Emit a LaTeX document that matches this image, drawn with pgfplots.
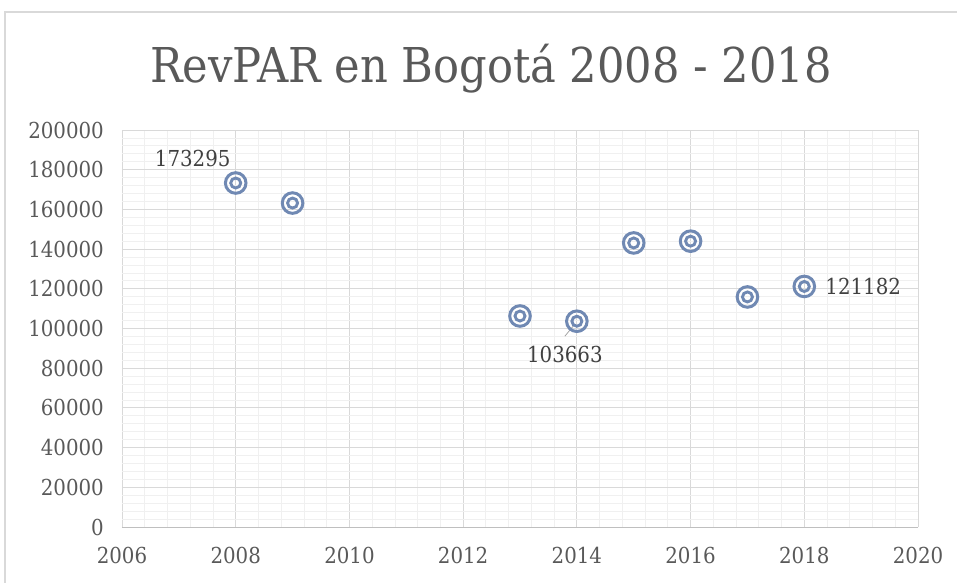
\documentclass[border=0pt]{standalone}
\usepackage{pgfplots}
\pgfplotsset{compat=1.18}
\usepackage{fontspec}
\setmainfont{DejaVu Serif Condensed}
\definecolor{txt}{HTML}{595959}
\definecolor{lbl}{HTML}{404040}
\definecolor{mk}{HTML}{7089B3}
\definecolor{frame}{HTML}{D9D9D9}
\begin{document}
\begin{tikzpicture}[x=1pt,y=1pt]
\useasboundingbox (-122,-55) rectangle (835,527);
\draw[frame, line width=1.5pt] (-117,-90) rectangle (870,515);
\node[txt, font=\fontsize{48}{54}\selectfont, anchor=base] at (369,444) {RevPAR en Bogotá 2008 - 2018};
\begin{axis}[
  at={(0,0)}, anchor=south west,
  scale only axis, width=796pt, height=397pt,
  xmin=2006, xmax=2020, ymin=0, ymax=200000,
  scaled y ticks=false, scaled x ticks=false,
  xtick={2006,2008,2010,2012,2014,2016,2018,2020},
  xticklabels={2006,2008,2010,2012,2014,2016,2018,2020},
  ytick={0,20000,40000,60000,80000,100000,120000,140000,160000,180000,200000},
  yticklabels={0,20000,40000,60000,80000,100000,120000,140000,160000,180000,200000},
  minor x tick num=4, minor y tick num=4,
  grid=both,
  major grid style={color=frame, line width=0.9pt},
  minor grid style={color=black!6, line width=0.8pt},
  axis y line*=left, axis x line*=bottom,
  y axis line style={draw=none},
  x axis line style={color=black!25, line width=1pt},
  major tick length=0pt, minor tick length=0pt,
  tick label style={font=\fontsize{22}{24}\selectfont, text=txt, inner sep=0pt},
  yticklabel style={anchor=east, xshift=-18pt},
  xticklabel style={anchor=north, yshift=-20pt},
  clip=false,
]
\addplot[only marks, mark=o, mark size=10.3pt, mk, mark options={line width=3pt}]
  coordinates {(2008,173295) (2009,163200) (2013,106300) (2014,103663) (2015,143100) (2016,144000) (2017,115900) (2018,121182)};
\addplot[only marks, mark=o, mark size=5pt, mk, mark options={line width=2.9pt}]
  coordinates {(2008,173295) (2009,163200) (2013,106300) (2014,103663) (2015,143100) (2016,144000) (2017,115900) (2018,121182)};
\draw[black!35, line width=0.8pt] ([xshift=-12pt,yshift=-15pt]axis cs:2014,103663) -- ([xshift=-3pt,yshift=-4pt]axis cs:2014,103663);
\node[lbl, font=\fontsize{22}{24}\selectfont, inner sep=0pt] at ([xshift=-43pt,yshift=25pt]axis cs:2008,173295) {173295};
\node[lbl, font=\fontsize{22}{24}\selectfont, inner sep=0pt] at ([xshift=-12pt,yshift=-33pt]axis cs:2014,103663) {103663};
\node[lbl, font=\fontsize{22}{24}\selectfont, inner sep=0pt, anchor=west] at ([xshift=21pt]axis cs:2018,121182) {121182};
\end{axis}
\end{tikzpicture}
\end{document}
